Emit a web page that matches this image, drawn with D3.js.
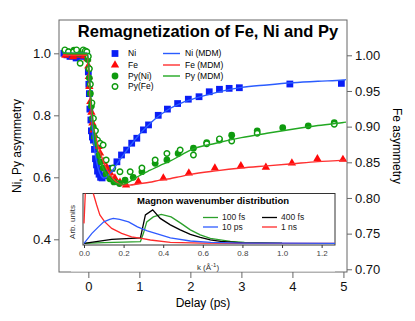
<!DOCTYPE html>
<html><head><meta charset="utf-8">
<script src="https://cdn.jsdelivr.net/npm/d3@7"></script>
<style>
body{margin:0;background:#fff;}
svg{display:block;font-family:"Liberation Sans",Arial,sans-serif;}
</style></head><body>
<svg width="415" height="321"></svg>
<script>
// --- measured data (delay in ps) ---
const niT = [-0.48,-0.42,-0.36,-0.3,-0.24,-0.18,-0.12,-0.07,-0.03,0.0,0.01,0.02,0.03,0.05,0.06,0.08,0.1,0.12,0.14,0.16,0.18,0.21,0.24,0.27,0.31,0.36,0.46,0.56,0.65,0.75,0.85,0.95,1.08,1.18,1.37,1.55,1.75,1.96,2.17,2.37,2.57,2.76,2.96,3.95,4.96];
const niV = [1.0,0.995,0.99,0.997,0.985,0.995,0.99,1.0,0.99,0.94,0.90,0.87,0.82,0.785,0.75,0.73,0.72,0.69,0.66,0.64,0.62,0.61,0.60,0.598,0.605,0.618,0.629,0.65,0.672,0.688,0.71,0.726,0.753,0.769,0.80,0.82,0.838,0.852,0.86,0.876,0.884,0.887,0.889,0.901,0.903];

const feT = [-0.45,-0.38,-0.3,-0.22,-0.15,-0.08,-0.02,0.0,0.01,0.02,0.04,0.06,0.08,0.1,0.13,0.16,0.2,0.23,0.29,0.36,0.43,0.52,0.62,0.74,0.98,1.47,1.97,2.48,2.99,3.48,3.99,4.49,4.99];
const feV = [1.0,1.002,0.998,1.0,1.003,0.999,0.995,0.985,0.97,0.956,0.935,0.92,0.905,0.895,0.886,0.878,0.872,0.863,0.851,0.843,0.835,0.828,0.822,0.818,0.823,0.828,0.835,0.842,0.845,0.843,0.849,0.855,0.854];

const pyNiT = [-0.45,-0.38,-0.28,-0.2,-0.12,-0.05,-0.01,0.01,0.02,0.04,0.06,0.08,0.1,0.12,0.15,0.2,0.24,0.29,0.35,0.42,0.5,0.61,0.72,0.88,1.05,1.31,1.54,1.76,2.06,2.32,2.57,2.81,3.31,3.81,4.31,4.82];
const pyNiV = [1.008,1.005,1.01,1.0,1.004,1.0,0.98,0.95,0.92,0.87,0.83,0.79,0.76,0.73,0.71,0.67,0.65,0.63,0.61,0.595,0.585,0.58,0.591,0.60,0.618,0.645,0.656,0.677,0.694,0.712,0.72,0.736,0.75,0.76,0.766,0.776];

const pyFeT = [-0.46,-0.39,-0.29,-0.23,-0.16,-0.1,-0.06,-0.03,0.0,0.02,0.04,0.07,0.1,0.14,0.18,0.23,0.29,0.35,0.48,0.62,0.82,1.05,1.31,1.54,1.8,2.06,2.32,2.57,2.81,3.31,4.82];
const pyFeV = [1.011,1.005,1.005,1.011,0.968,1.011,1.008,1.005,0.99,0.95,0.9,0.84,0.79,0.75,0.72,0.71,0.704,0.656,0.63,0.618,0.618,0.63,0.656,0.677,0.688,0.672,0.708,0.724,0.717,0.742,0.771];

// model curves (MDM)
const mdmT = [-0.5,-0.02,0,0.05,0.1,0.15,0.2,0.25,0.3,0.35,0.4,0.5,0.6,0.7,0.8,1.0,1.2,1.4,1.6,1.8,2.0,2.5,3.0,3.5,4.0,4.5,5.0,5.05];
const niMdm = [1.0,1.0,0.97,0.83,0.72,0.66,0.625,0.605,0.598,0.6,0.608,0.628,0.652,0.675,0.697,0.738,0.772,0.80,0.822,0.838,0.85,0.873,0.89,0.898,0.905,0.91,0.914,0.915];
const feMdm = [1.0,1.0,0.985,0.93,0.9,0.885,0.87,0.86,0.85,0.842,0.836,0.826,0.82,0.818,0.818,0.82,0.822,0.825,0.827,0.83,0.833,0.838,0.842,0.845,0.848,0.851,0.853,0.854];
const pyMdm = [1.0,1.0,0.975,0.86,0.77,0.71,0.67,0.645,0.625,0.61,0.6,0.585,0.578,0.578,0.585,0.605,0.622,0.638,0.652,0.67,0.688,0.71,0.728,0.742,0.755,0.767,0.777,0.778];

// inset: magnon wavenumber distribution (k in 1/A, arb. units)
const k100fs = [0,0.1,0.2,0.285,0.3,0.317,0.35,0.39,0.44,0.49,0.537,0.587,0.638,0.688,0.739,0.81,1.0];
const v100fs = [0,0.012,0.024,0.035,0.2,0.43,0.53,0.58,0.53,0.40,0.27,0.17,0.10,0.07,0.04,0.02,0.005];
const k400fs = [0,0.14,0.285,0.31,0.347,0.385,0.436,0.486,0.537,0.587,0.638,0.69,0.8,1.0];
const v400fs = [0,0.08,0.11,0.57,0.67,0.5,0.37,0.27,0.18,0.12,0.07,0.04,0.01,0];
const k1ns = [0,0.012,0.03,0.047,0.064,0.08,0.105,0.14,0.19,0.24,0.29,0.335,0.436,0.6,0.8,1.27];
const v1ns = [0.4,1.5,1.5,1.0,0.77,0.57,0.43,0.30,0.20,0.13,0.10,0.066,0.02,0.005,0,0];
const k10ps = [0,0.04,0.073,0.1,0.13,0.148,0.18,0.225,0.27,0.32,0.37,0.436,0.537,0.64,0.8,1.0,1.27];
const v10ps = [0,0.2,0.33,0.43,0.48,0.50,0.48,0.43,0.33,0.25,0.19,0.11,0.046,0.02,0.005,0.002,0];

const xTicks = [0,1,2,3,4,5];
const yLTicks = [0.4,0.6,0.8,1.0];
const yRTicks = [0.70,0.75,0.80,0.85,0.90,0.95,1.00];
const kTicks = [0,0.2,0.4,0.6,0.8,1.0,1.2];

const svg = d3.select('svg');
const zip = (a, b) => a.map((d, i) => [d, b[i]]);

const pL = 59, pR = 347, pT = 20, pB = 272;
const x = d3.scaleLinear().domain([-0.575, 5.07]).range([pL, pR]);
const yL = d3.scaleLinear().domain([0.2945, 1.1075]).range([pB, pT]);
const yR = d3.scaleLinear().domain([0.6962, 1.0495]).range([pB, pT]);

const blue = '#0a1ef5', red = '#ff0a0a', green = '#0e9a0e';
const blueL = '#2a5cff', redL = '#ff3030', greenL = '#22a822';

// frame
svg.append('rect').attr('x', pL).attr('y', pT)
   .attr('width', pR - pL).attr('height', pB - pT)
   .attr('fill', 'none').attr('stroke', '#666').attr('stroke-width', 1);

function styleAxis(g) {
   g.select('.domain').remove();
   g.selectAll('line').attr('stroke', '#666');
   g.selectAll('text').attr('fill', '#111').style('font-size', '13px')
    .style('font-family', '"Liberation Sans", Arial, sans-serif');
}

svg.append('g').attr('transform', 'translate(' + pL + ',0)')
   .call(d3.axisLeft(yL).tickValues(yLTicks).tickFormat(d3.format('.1f')).tickSize(5).tickPadding(3))
   .call(styleAxis);
svg.append('g').attr('transform', 'translate(' + pR + ',0)')
   .call(d3.axisRight(yR).tickValues(yRTicks).tickFormat(d3.format('.2f')).tickSize(5).tickPadding(3))
   .call(styleAxis);
svg.append('g').attr('transform', 'translate(0,' + pB + ')')
   .call(d3.axisBottom(x).tickValues(xTicks).tickFormat(d3.format('d')).tickSize(6).tickPadding(4))
   .call(styleAxis);

// axis titles
svg.append('text').attr('transform', 'translate(21,146) rotate(-90)')
   .attr('text-anchor', 'middle').style('font-size', '12px').text('Ni, Py asymmetry');
svg.append('text').attr('transform', 'translate(393,146) rotate(90)')
   .attr('text-anchor', 'middle').style('font-size', '12px').text('Fe asymmetry');
svg.append('text').attr('x', 203).attr('y', 307)
   .attr('text-anchor', 'middle').style('font-size', '12px').text('Delay (ps)');

// title
svg.append('text').attr('x', 208).attr('y', 37).attr('text-anchor', 'middle')
   .style('font-size', '16.5px').style('font-weight', 'bold').text('Remagnetization of Fe, Ni and Py');

// markers
const sym = (type, size) => d3.symbol().type(type).size(size)();
function markers(t, v, y, path, fill, stroke) {
   svg.append('g').selectAll('path').data(zip(t, v)).enter().append('path')
      .attr('d', path)
      .attr('transform', d => 'translate(' + x(d[0]) + ',' + y(d[1]) + ')')
      .attr('fill', fill).attr('stroke', stroke).attr('stroke-width', stroke === 'none' ? 0 : 1.4);
}
markers(niT, niV, yL, sym(d3.symbolSquare, 46), blue, 'none');
markers(feT, feV, yR, sym(d3.symbolTriangle, 30), red, 'none');
markers(pyNiT, pyNiV, yL, sym(d3.symbolCircle, 36), green, 'none');
markers(pyFeT, pyFeV, yL, sym(d3.symbolCircle, 24), '#fff', green);

// model lines
function mdm(v, y, color) {
   svg.append('path').datum(zip(mdmT, v))
      .attr('d', d3.line().x(d => x(d[0])).y(d => y(d[1])).curve(d3.curveMonotoneX))
      .attr('fill', 'none').attr('stroke', color).attr('stroke-width', 1.4);
}
mdm(niMdm, yL, blueL);
mdm(feMdm, yR, redL);
mdm(pyMdm, yL, greenL);

// legend
const leg = svg.append('g').style('font-size', '8.5px');
[['Ni', sym(d3.symbolSquare, 46), blue, 'none', 53.5],
 ['Fe', sym(d3.symbolTriangle, 30), red, 'none', 65],
 ['Py(Ni)', sym(d3.symbolCircle, 36), green, 'none', 76],
 ['Py(Fe)', sym(d3.symbolCircle, 24), '#fff', green, 86.5]].forEach(r => {
   leg.append('path').attr('d', r[1]).attr('transform', 'translate(115,' + r[4] + ')')
      .attr('fill', r[2]).attr('stroke', r[3]).attr('stroke-width', 1.4);
   leg.append('text').attr('x', 128).attr('y', r[4]).attr('dy', '0.35em').text(r[0]);
});
[['Ni (MDM)', blueL, 53.5], ['Fe (MDM)', redL, 65], ['Py (MDM)', greenL, 76]].forEach(r => {
   leg.append('line').attr('x1', 163).attr('x2', 180).attr('y1', r[2]).attr('y2', r[2])
      .attr('stroke', r[1]).attr('stroke-width', 1.4);
   leg.append('text').attr('x', 185).attr('y', r[2]).attr('dy', '0.35em').text(r[0]);
});

// ---- inset ----
const ix0 = 83, ix1 = 335, iy0 = 193.5, iy1 = 245;
const xi = d3.scaleLinear().domain([0, 1.27]).range([84, 335.5]);
const yi = d3.scaleLinear().domain([0, 1]).range([243.3, 193.5]);

svg.append('rect').attr('x', ix0 - 12).attr('y', iy0).attr('width', ix1 - ix0 + 12).attr('height', 78)
   .attr('fill', '#fff');
svg.append('rect').attr('x', ix0).attr('y', iy0).attr('width', ix1 - ix0).attr('height', iy1 - iy0)
   .attr('fill', '#fff').attr('stroke', '#333').attr('stroke-width', 1);

svg.append('defs').append('clipPath').attr('id', 'iclip')
   .append('rect').attr('x', ix0).attr('y', iy0).attr('width', ix1 - ix0).attr('height', iy1 - iy0);

const ig = svg.append('g').attr('clip-path', 'url(#iclip)');
[[k100fs, v100fs, '#2ca02c'], [k400fs, v400fs, '#000'], [k1ns, v1ns, '#ff2a2a'], [k10ps, v10ps, '#2f5bff']]
   .forEach(s => {
      ig.append('path').datum(zip(s[0], s[1]))
        .attr('d', d3.line().x(d => xi(d[0])).y(d => yi(d[1])))
        .attr('fill', 'none').attr('stroke', s[2]).attr('stroke-width', 1.3);
   });

svg.append('g').attr('transform', 'translate(0,' + iy1 + ')')
   .call(d3.axisBottom(xi).tickValues(kTicks).tickFormat(d3.format('.1f')).tickSize(3).tickPadding(2))
   .call(g => {
      g.select('.domain').remove();
      g.selectAll('line').attr('stroke', '#333');
      g.selectAll('text').attr('fill', '#444').style('font-size', '8px');
   });

svg.append('text').attr('x', 213).attr('y', 204).attr('text-anchor', 'middle')
   .style('font-size', '9.5px').style('font-weight', 'bold').text('Magnon wavenumber distribution');
svg.append('text').attr('transform', 'translate(75,222) rotate(-90)').attr('text-anchor', 'middle')
   .attr('fill', '#333').style('font-size', '8px').text('Arb. units');
const kl = svg.append('text').attr('x', 208).attr('y', 270).attr('text-anchor', 'middle')
   .attr('fill', '#333').style('font-size', '8px');
kl.append('tspan').text('k (Å');
kl.append('tspan').attr('dy', -3).style('font-size', '6px').text('-1');
kl.append('tspan').attr('dy', 3).text(')');

const il = svg.append('g').style('font-size', '8.5px').attr('fill', '#222');
[['100 fs', '#2ca02c', 203, 217.5], ['400 fs', '#000', 262, 217.5],
 ['10 ps', '#2f5bff', 203, 227], ['1 ns', '#ff2a2a', 262, 227]].forEach(r => {
   il.append('line').attr('x1', r[2]).attr('x2', r[2] + 15).attr('y1', r[3]).attr('y2', r[3])
     .attr('stroke', r[1]).attr('stroke-width', 1.3);
   il.append('text').attr('x', r[2] + 19).attr('y', r[3]).attr('dy', '0.35em').text(r[0]);
});
</script>
</body></html>
